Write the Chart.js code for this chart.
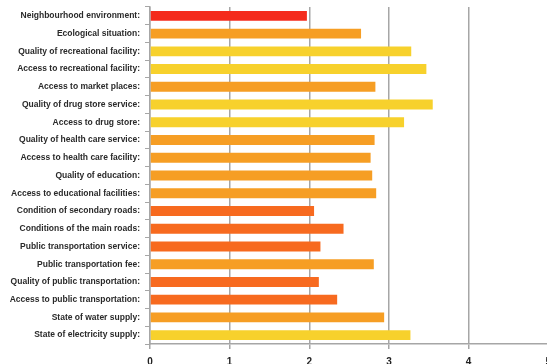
<!DOCTYPE html>
<html>
<head>
  <meta charset="UTF-8">
  <title>Neighbourhood ratings</title>
  <script src="https://cdn.jsdelivr.net/npm/chart.js"></script>
  <style>
    body { margin: 0; overflow: hidden; background: #fff; }
    #wrap { width: 558px; height: 364px; }
  </style>
</head>
<body>
  <div id="wrap"><canvas id="chart"></canvas></div>
  <script>
    const categories = [
      "Neighbourhood environment:",
      "Ecological situation:",
      "Quality of recreational facility:",
      "Access to recreational facility:",
      "Access to market places:",
      "Quality of drug store service:",
      "Access to drug store:",
      "Quality of health care service:",
      "Access to health care facility:",
      "Quality of education:",
      "Access to educational facilities:",
      "Condition of secondary roads:",
      "Conditions of the main roads:",
      "Public transportation service:",
      "Public transportation fee:",
      "Quality of public transportation:",
      "Access to public transportation:",
      "State of water supply:",
      "State of electricity supply:"
    ];
    const scores = [1.97, 2.65, 3.28, 3.47, 2.83, 3.55, 3.19, 2.82, 2.77, 2.79, 2.84,
                    2.06, 2.43, 2.14, 2.81, 2.12, 2.35, 2.94, 3.27];
    const xTicks = [0, 1, 2, 3, 4, 5];

    // colour bands by score
    function barColor(v) {
      if (v < 2) return "#F42B1C";
      if (v < 2.5) return "#F76A1F";
      if (v < 3) return "#F69E24";
      return "#F7D12C";
    }

    new Chart(document.getElementById("chart"), {
      type: "bar",
      data: {
        labels: categories,
        datasets: [{
          data: scores,
          backgroundColor: scores.map(barColor),
          borderWidth: 0,
          categoryPercentage: 1,
          barPercentage: 0.56
        }]
      },
      options: {
        indexAxis: "y",
        animation: false,
        responsive: true,
        maintainAspectRatio: false,
        layout: { padding: { top: 7, right: 0, left: 0, bottom: 0 } },
        plugins: { legend: { display: false }, tooltip: { enabled: false } },
        scales: {
          x: {
            min: 0, max: 5,
            afterBuildTicks: s => { s.ticks = xTicks.map(v => ({ value: v })); },
            afterFit: s => { s.height = 20; },
            grid: { color: "#A6A6A6", lineWidth: 1.5, tickLength: 5 },
            border: { color: "#A6A6A6", width: 1.5 },
            ticks: { color: "#222", padding: 7, font: { family: "Liberation Sans", size: 10, weight: "bold" } }
          },
          y: {
            afterFit: s => { s.width = 150; s.paddingTop = 0; s.paddingBottom = 0; },
            grid: { drawOnChartArea: false, color: "#A6A6A6", tickLength: 5 },
            border: { color: "#A6A6A6", width: 1.5 },
            ticks: { color: "#2a2a2a", padding: 5, font: { family: "Liberation Sans", size: 8.5, weight: "bold" } }
          }
        }
      }
    });
  </script>
</body>
</html>
